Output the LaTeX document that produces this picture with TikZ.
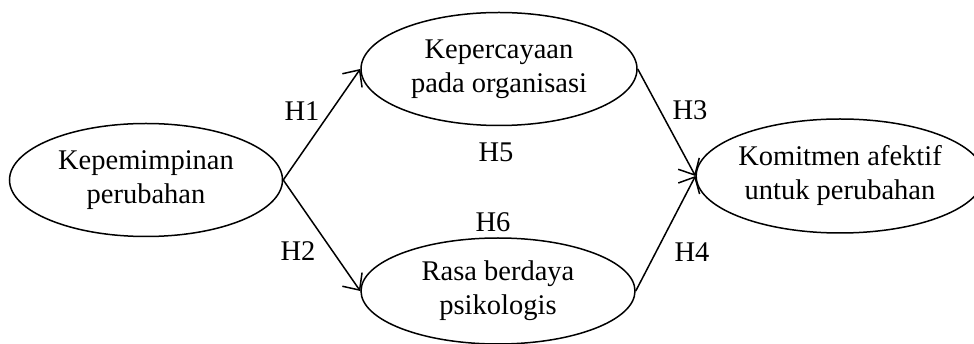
\documentclass[tikz,border=0pt]{standalone}
\usepackage{fontspec}
\setmainfont{Liberation Serif}
\usetikzlibrary{shapes.geometric,arrows.meta}
\begin{document}
\begin{tikzpicture}[x=1pt,y=-1pt,
  construct/.style={ellipse,draw,line width=1.5pt,inner sep=0pt,align=center,
    font=\fontsize{28.5}{34}\selectfont},
  hyp/.style={inner sep=0pt,font=\fontsize{28.5}{34}\selectfont},
  link/.style={line width=1.5pt,-{Straight Barb[length=13pt,width=24pt,line width=1.5pt]}}]
\useasboundingbox (0,0) rectangle (974,344);
\node[construct,minimum width=273pt,minimum height=113pt] (kp) at (146,180) {Kepemimpinan\\perubahan};
\node[construct,minimum width=276pt,minimum height=113pt] (ko) at (499,69) {Kepercayaan\\pada organisasi};
\node[construct,minimum width=274pt,minimum height=106pt] (rb) at (498,291) {Rasa berdaya\\psikologis};
\node[construct,minimum width=262pt,minimum height=114pt] (ka) at (840,176) {Komitmen afektif\\untuk perubahan};
\draw[link] (kp.east) -- (ko.west);
\draw[link] (kp.east) -- (rb.west);
\draw[link] (ko.east) -- (ka.west);
\draw[link] (rb.east) -- (ka.west);
\node[hyp] (h1) at (302,111) {H1};
\node[hyp] (h2) at (298,251) {H2};
\node[hyp] (h5) at (496,152) {H5};
\node[hyp] (h6) at (493,222) {H6};
\node[hyp] (h3) at (690,110) {H3};
\node[hyp] (h4) at (692,252) {H4};
\end{tikzpicture}
\end{document}
